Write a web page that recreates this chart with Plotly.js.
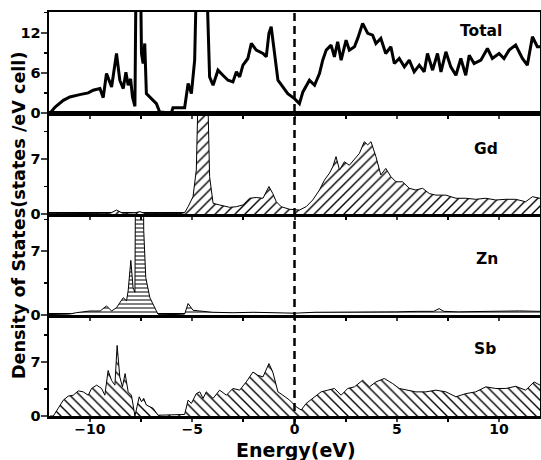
<!DOCTYPE html>
<html><head><meta charset="utf-8">
<script src="https://cdn.plot.ly/plotly-3.0.1.min.js"></script>
<style>body{margin:0;padding:0;background:#fff}#plot{width:541px;height:460px}</style>
</head><body><div id="plot"></div>
<script>
// Energy (eV) and DOS values
const totalE = [-11.95,-11.7,-11.3,-10.98,-10.5,-10.08,-9.84,-9.51,-9.35,-9.19,-8.94,-8.70,-8.54,-8.37,-8.24,-8.13,-8.01,-7.92,-7.80,-7.72,-7.56,-7.48,-7.40,-7.32,-7.24,-6.75,-6.59,-6.02,-5.94,-5.37,-5.20,-5.04,-4.88,-4.72,-4.39,-4.15,-3.98,-3.74,-3.50,-3.25,-3.01,-2.84,-2.68,-2.52,-2.28,-2.11,-1.87,-1.54,-1.38,-1.25,-1.14,-0.98,-0.81,-0.57,-0.33,0,0.24,0.41,0.73,0.98,1.22,1.38,1.55,1.79,1.95,2.11,2.28,2.52,2.68,2.93,3.09,3.33,3.58,3.82,3.98,4.22,4.46,4.71,4.88,5.12,5.37,5.61,5.85,6.10,6.34,6.50,6.75,6.99,7.16,7.40,7.64,7.89,8.13,8.37,8.54,8.78,9.11,9.43,9.67,10.0,10.24,10.49,10.81,11.14,11.38,11.63,11.87,12.0];
const totalDOS = [0,0.9,1.9,2.4,2.75,3.0,3.4,3.65,2.3,5.9,3.9,8.9,4.9,3.65,6.1,4.15,5.1,2.4,1.0,30,30,8.9,7.4,10.4,2.9,1.4,0.15,0,0.8,0.8,4.4,2.9,7.9,30,30,5.4,4.15,6.4,5.65,4.9,4.65,6.15,5.4,7.15,8.15,10.4,9.4,8.9,8.4,11.9,12.9,9.4,4.9,3.9,2.9,2.15,1.4,3.15,4.9,4.15,5.9,7.9,9.4,10.15,8.4,10.65,7.9,10.9,9.4,9.9,11.15,13.4,11.9,11.65,10.4,11.15,8.9,9.9,7.4,8.15,6.9,7.9,6.15,7.15,6.15,8.9,6.4,8.9,6.15,9.15,6.9,5.65,8.15,5.65,8.65,7.4,7.9,9.65,8.15,8.9,8.15,9.4,10.15,8.15,7.15,11.4,9.9,9.9];

const gdE = [-12,-10,-9.0,-8.7,-8.4,-7.8,-7.56,-7.3,-6.5,-5.6,-5.37,-5.20,-4.96,-4.80,-4.67,-4.28,-4.15,-3.98,-3.66,-3.17,-2.84,-2.52,-2.20,-1.87,-1.54,-1.25,-1.06,-0.89,-0.65,-0.24,0.24,0.57,0.89,1.22,1.46,1.71,1.87,2.03,2.20,2.44,2.68,2.93,3.17,3.41,3.58,3.74,3.98,4.22,4.46,4.71,4.96,5.28,5.61,5.93,6.26,6.59,6.91,7.40,7.89,8.37,8.86,9.35,9.84,10.33,10.81,11.30,11.63,12];
const gdDOS = [0.02,0.05,0.1,0.5,0.1,0.15,0.3,0.05,0.02,0.05,0.17,0.93,2.2,5.6,20,20,4.75,1.36,1.15,0.85,0.93,1.15,2.0,2.1,2.0,3.5,2.6,1.56,0.93,0.6,0.5,0.93,1.78,3.05,4.3,5.2,6.0,7.3,5.6,6.65,6.2,6.9,7.7,9.2,8.8,9.2,7.3,4.96,5.8,4.75,4.1,4.1,3.27,3.05,3.27,2.6,2.4,2.4,2.0,2.0,1.87,2.0,1.78,1.87,1.87,1.56,2.2,2.0];

const znE = [-12,-11,-10.65,-10,-9.5,-9.19,-8.94,-8.70,-8.37,-8.21,-8.13,-8.0,-7.89,-7.80,-7.76,-7.40,-7.37,-7.27,-7.07,-6.83,-6.67,-5.94,-5.37,-5.20,-4.96,-4.63,-4,-3,-2,-1,0,1,2,3,4,5,6,6.8,7.07,7.3,8,9,10,11,12];
const znDOS = [0.05,0.1,0.26,0.44,0.44,1.0,0.44,0.81,1.9,1.56,2.67,6.0,3.0,2.5,20,20,9.3,4.1,1.9,0.8,0.08,0.05,0.1,1.26,0.52,0.44,0.3,0.25,0.3,0.25,0.2,0.3,0.3,0.35,0.3,0.35,0.4,0.4,0.7,0.4,0.35,0.4,0.4,0.45,0.4];

const sbE = [-11.95,-11.79,-11.55,-11.30,-11.06,-10.81,-10.57,-10.33,-10.08,-9.92,-9.67,-9.43,-9.27,-9.11,-8.94,-8.78,-8.67,-8.54,-8.41,-8.28,-8.13,-7.97,-7.80,-7.59,-7.48,-7.37,-7.24,-6.91,-6.67,-5.94,-5.37,-5.20,-5.04,-4.80,-4.63,-4.47,-4.31,-3.98,-3.66,-3.33,-3.01,-2.68,-2.36,-2.03,-1.79,-1.54,-1.25,-1.06,-0.81,-0.57,-0.24,0.08,0.33,0.57,0.89,1.30,1.63,1.95,2.28,2.60,2.93,3.33,3.66,3.98,4.39,4.80,5.12,5.45,5.93,6.42,6.91,7.40,7.89,8.37,8.86,9.35,9.84,10.33,10.81,11.30,11.71,12];
const sbDOS = [0,0,1.0,2.06,2.58,2.7,3.26,3.13,2.7,3.57,4.0,3.57,2.7,5.9,4.6,4.0,9.15,5.07,3.78,5.5,3.13,2.7,0,2.49,1.85,2.28,1.42,0.99,0.1,0.2,0.2,2.06,1.63,2.9,3.13,2.28,3.13,2.28,3.35,2.7,3.57,3.35,4.42,5.7,5.28,5.07,6.8,5.7,3.13,2.7,2.06,1.2,0.77,1.63,2.28,3.13,3.35,3.57,2.7,3.57,3.78,4.64,3.78,4.42,4.86,4.2,3.57,3.35,3.13,3.13,3.35,3.13,2.49,2.9,3.13,3.78,3.57,3.57,3.85,3.35,4.42,4.0];

const panelLabels = ['Total','Gd','Zn','Sb'];
const xTitle = 'Energy(eV)';
const yTitle = 'Density of States(states /eV cell)';

const F = 'DejaVu Sans, sans-serif';
const traces = [
  {x: sbE, y: sbDOS, xaxis:'x', yaxis:'y', type:'scatter', mode:'lines', fill:'tozeroy',
   line:{color:'black', width:1}, fillcolor:'white',
   fillpattern:{shape:'\\', fgcolor:'black', bgcolor:'white', size:7, solidity:0.2}},
  {x: znE, y: znDOS, xaxis:'x2', yaxis:'y2', type:'scatter', mode:'lines', fill:'tozeroy',
   line:{color:'black', width:1}, fillcolor:'white',
   fillpattern:{shape:'-', fgcolor:'black', bgcolor:'white', size:4, solidity:0.25}},
  {x: gdE, y: gdDOS, xaxis:'x3', yaxis:'y3', type:'scatter', mode:'lines', fill:'tozeroy',
   line:{color:'black', width:1}, fillcolor:'white',
   fillpattern:{shape:'/', fgcolor:'black', bgcolor:'white', size:7, solidity:0.2}},
  {x: totalE, y: totalDOS, xaxis:'x4', yaxis:'y4', type:'scatter', mode:'lines',
   line:{color:'black', width:3}}
];

function xax(anchor, labels){
  return {anchor: anchor, range:[-12,12], tick0:0, dtick:5, ticks:'outside', ticklen:3, tickwidth:2,
    showticklabels: labels, ticklabelstandoff: -4, showline:true, mirror:true, linewidth:2.5, linecolor:'black',
    showgrid:false, zeroline:false,
    minor:{dtick:2.5, ticks:'outside', ticklen:3, tickwidth:2, tickcolor:'black'},
    tickfont:{family:F, size:14, color:'black', weight:'bold'}};
}
function yax(anchor, dom, rng, vals, mdt){
  return {anchor: anchor, domain: dom, range: rng, tickvals: vals, ticks:'outside', ticklen:6, tickwidth:2,
    ticklabelstandoff: -3,
    minor:{dtick:mdt, tick0:0, ticks:'outside', ticklen:3, tickwidth:1.5, tickcolor:'black'},
    showline:true, mirror:true, linewidth:2.5, linecolor:'black', showgrid:false, zeroline:false,
    tickfont:{family:F, size:14.5, color:'black', weight:'bold'}};
}
const lblPos = [[0.879,0.953],[0.891,0.661],[0.893,0.389],[0.889,0.166]];
const annotations = panelLabels.map((t,i)=>({text:t, xref:'paper', yref:'paper', x:lblPos[i][0], y:lblPos[i][1],
  xanchor:'center', yanchor:'middle', showarrow:false, font:{family:F, size:15.5, color:'black', weight:'bold'}}));
annotations.push({text:yTitle, xref:'paper', yref:'paper', x:-0.061, y:0.4975, textangle:-90,
  xanchor:'center', yanchor:'middle', showarrow:false, font:{family:F, size:17.6, color:'black', weight:'bold'}});
annotations.push({text:xTitle, xref:'paper', yref:'paper', x:0.504, y:-0.083,
  xanchor:'center', yanchor:'middle', showarrow:false, font:{family:F, size:19, color:'black', weight:'bold'}});

const layout = {
  width:541, height:460, margin:{l:49, r:1, t:12, b:44},
  paper_bgcolor:'white', plot_bgcolor:'white', showlegend:false,
  xaxis: xax('y', true), xaxis2: xax('y2', false), xaxis3: xax('y3', false), xaxis4: xax('y4', false),
  yaxis: yax('x', [0,0.25], [0,13.1], [0,7], 3.5),
  yaxis2: yax('x2', [0.25,0.5], [0,11.1], [0,7], 3.5),
  yaxis3: yax('x3', [0.5,0.75], [0,12.85], [0,7], 3.5),
  yaxis4: yax('x4', [0.75,1], [0,15.1], [0,6,12], 3),
  shapes:[{type:'line', xref:'x', yref:'paper', x0:0, x1:0, y0:-0.02, y1:1,
    line:{color:'black', width:2.5, dash:'8px,5px'}}],
  annotations: annotations
};
Plotly.newPlot('plot', traces, layout, {staticPlot:true});
</script></body></html>
